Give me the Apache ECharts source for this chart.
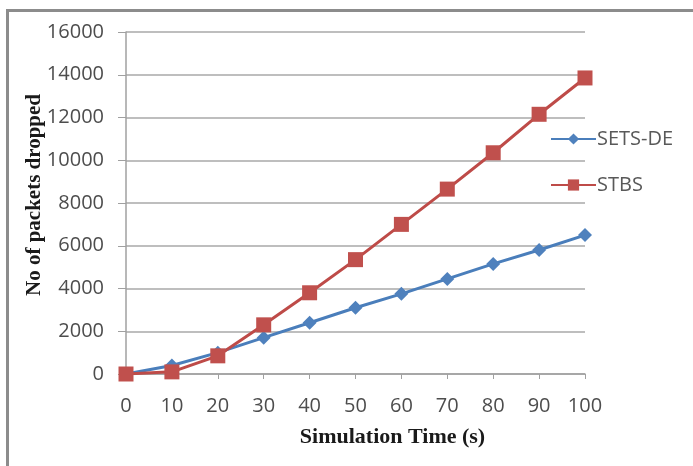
<!DOCTYPE html>
<html>
<head>
<meta charset="utf-8">
<script src="https://cdn.jsdelivr.net/npm/echarts@6/dist/echarts.min.js"></script>
<style>
html,body{margin:0;padding:0;background:#fff;}
#c{width:693px;height:466px;}
</style>
</head>
<body>
<div id="c"></div>
<script>
var categories = ['0','10','20','30','40','50','60','70','80','90','100'];
var setsDE = [0, 400, 1000, 1700, 2400, 3100, 3750, 4450, 5150, 5800, 6500];
var stbs = [0, 100, 850, 2300, 3800, 5350, 7000, 8650, 10350, 12150, 13850];
var yTicks = [0, 2000, 4000, 6000, 8000, 10000, 12000, 14000, 16000];

var chart = echarts.init(document.getElementById('c'), null, {renderer:'canvas'});
chart.setOption({
  animation: false,
  backgroundColor: '#fff',
  graphic: [
    {type:'rect', shape:{x:6, y:10, width:3, height:456}, style:{fill:'#8c8c8c'}},
    {type:'rect', shape:{x:6, y:9, width:687, height:3}, style:{fill:'#8c8c8c'}}
  ],
  grid: {left:126, right:108, top:32, bottom:92, containLabel:false},
  legend: {
    orient:'vertical', left:545, top:124, itemGap:26,
    itemWidth:45, itemHeight:14,
    textStyle:{fontFamily:'Open Sans', fontSize:20, color:'#595959', padding:[0,0,0,-4]},
    data:['SETS-DE','STBS']
  },
  xAxis: {
    type:'category', data:categories, boundaryGap:false,
    axisLine:{lineStyle:{color:'#a0a0a0', width:1.5}},
    axisTick:{show:true, length:5, lineStyle:{color:'#a0a0a0'}},
    axisLabel:{fontFamily:'Open Sans', fontSize:20, color:'#4d4d4d', margin:22},
    name:'Simulation Time (s)', nameLocation:'middle', nameGap:52,
    nameTextStyle:{fontFamily:'Liberation Serif', fontWeight:'bold', fontSize:22, color:'#1a1a1a', padding:[0,0,0,74]}
  },
  yAxis: {
    type:'value', min:0, max:16000, interval:2000,
    axisLine:{show:true, lineStyle:{color:'#a0a0a0', width:1.5}},
    axisTick:{show:true, length:8, lineStyle:{color:'#a0a0a0'}},
    splitLine:{lineStyle:{color:'#a8a8a8', width:1.5}},
    axisLabel:{fontFamily:'Open Sans', fontSize:20, color:'#4d4d4d', margin:22,
      formatter:function(v){return yTicks.indexOf(v)>=0 ? String(v) : '';}},
    name:'No of packets dropped', nameLocation:'middle', nameGap:81, nameMoveOverlap:false,
    nameTextStyle:{fontFamily:'Liberation Serif', fontWeight:'bold', fontSize:21, color:'#1a1a1a', padding:[0,0,0,16]}
  },
  series: [
    {name:'SETS-DE', type:'line', data:setsDE, symbol:'diamond', symbolSize:14,
     lineStyle:{color:'#4a7ebb', width:3}, itemStyle:{color:'#4f81bd'}},
    {name:'STBS', type:'line', data:stbs, symbol:'rect', symbolSize:15,
     lineStyle:{color:'#be4b48', width:3}, itemStyle:{color:'#c0504d'}}
  ]
});
</script>
</body>
</html>
